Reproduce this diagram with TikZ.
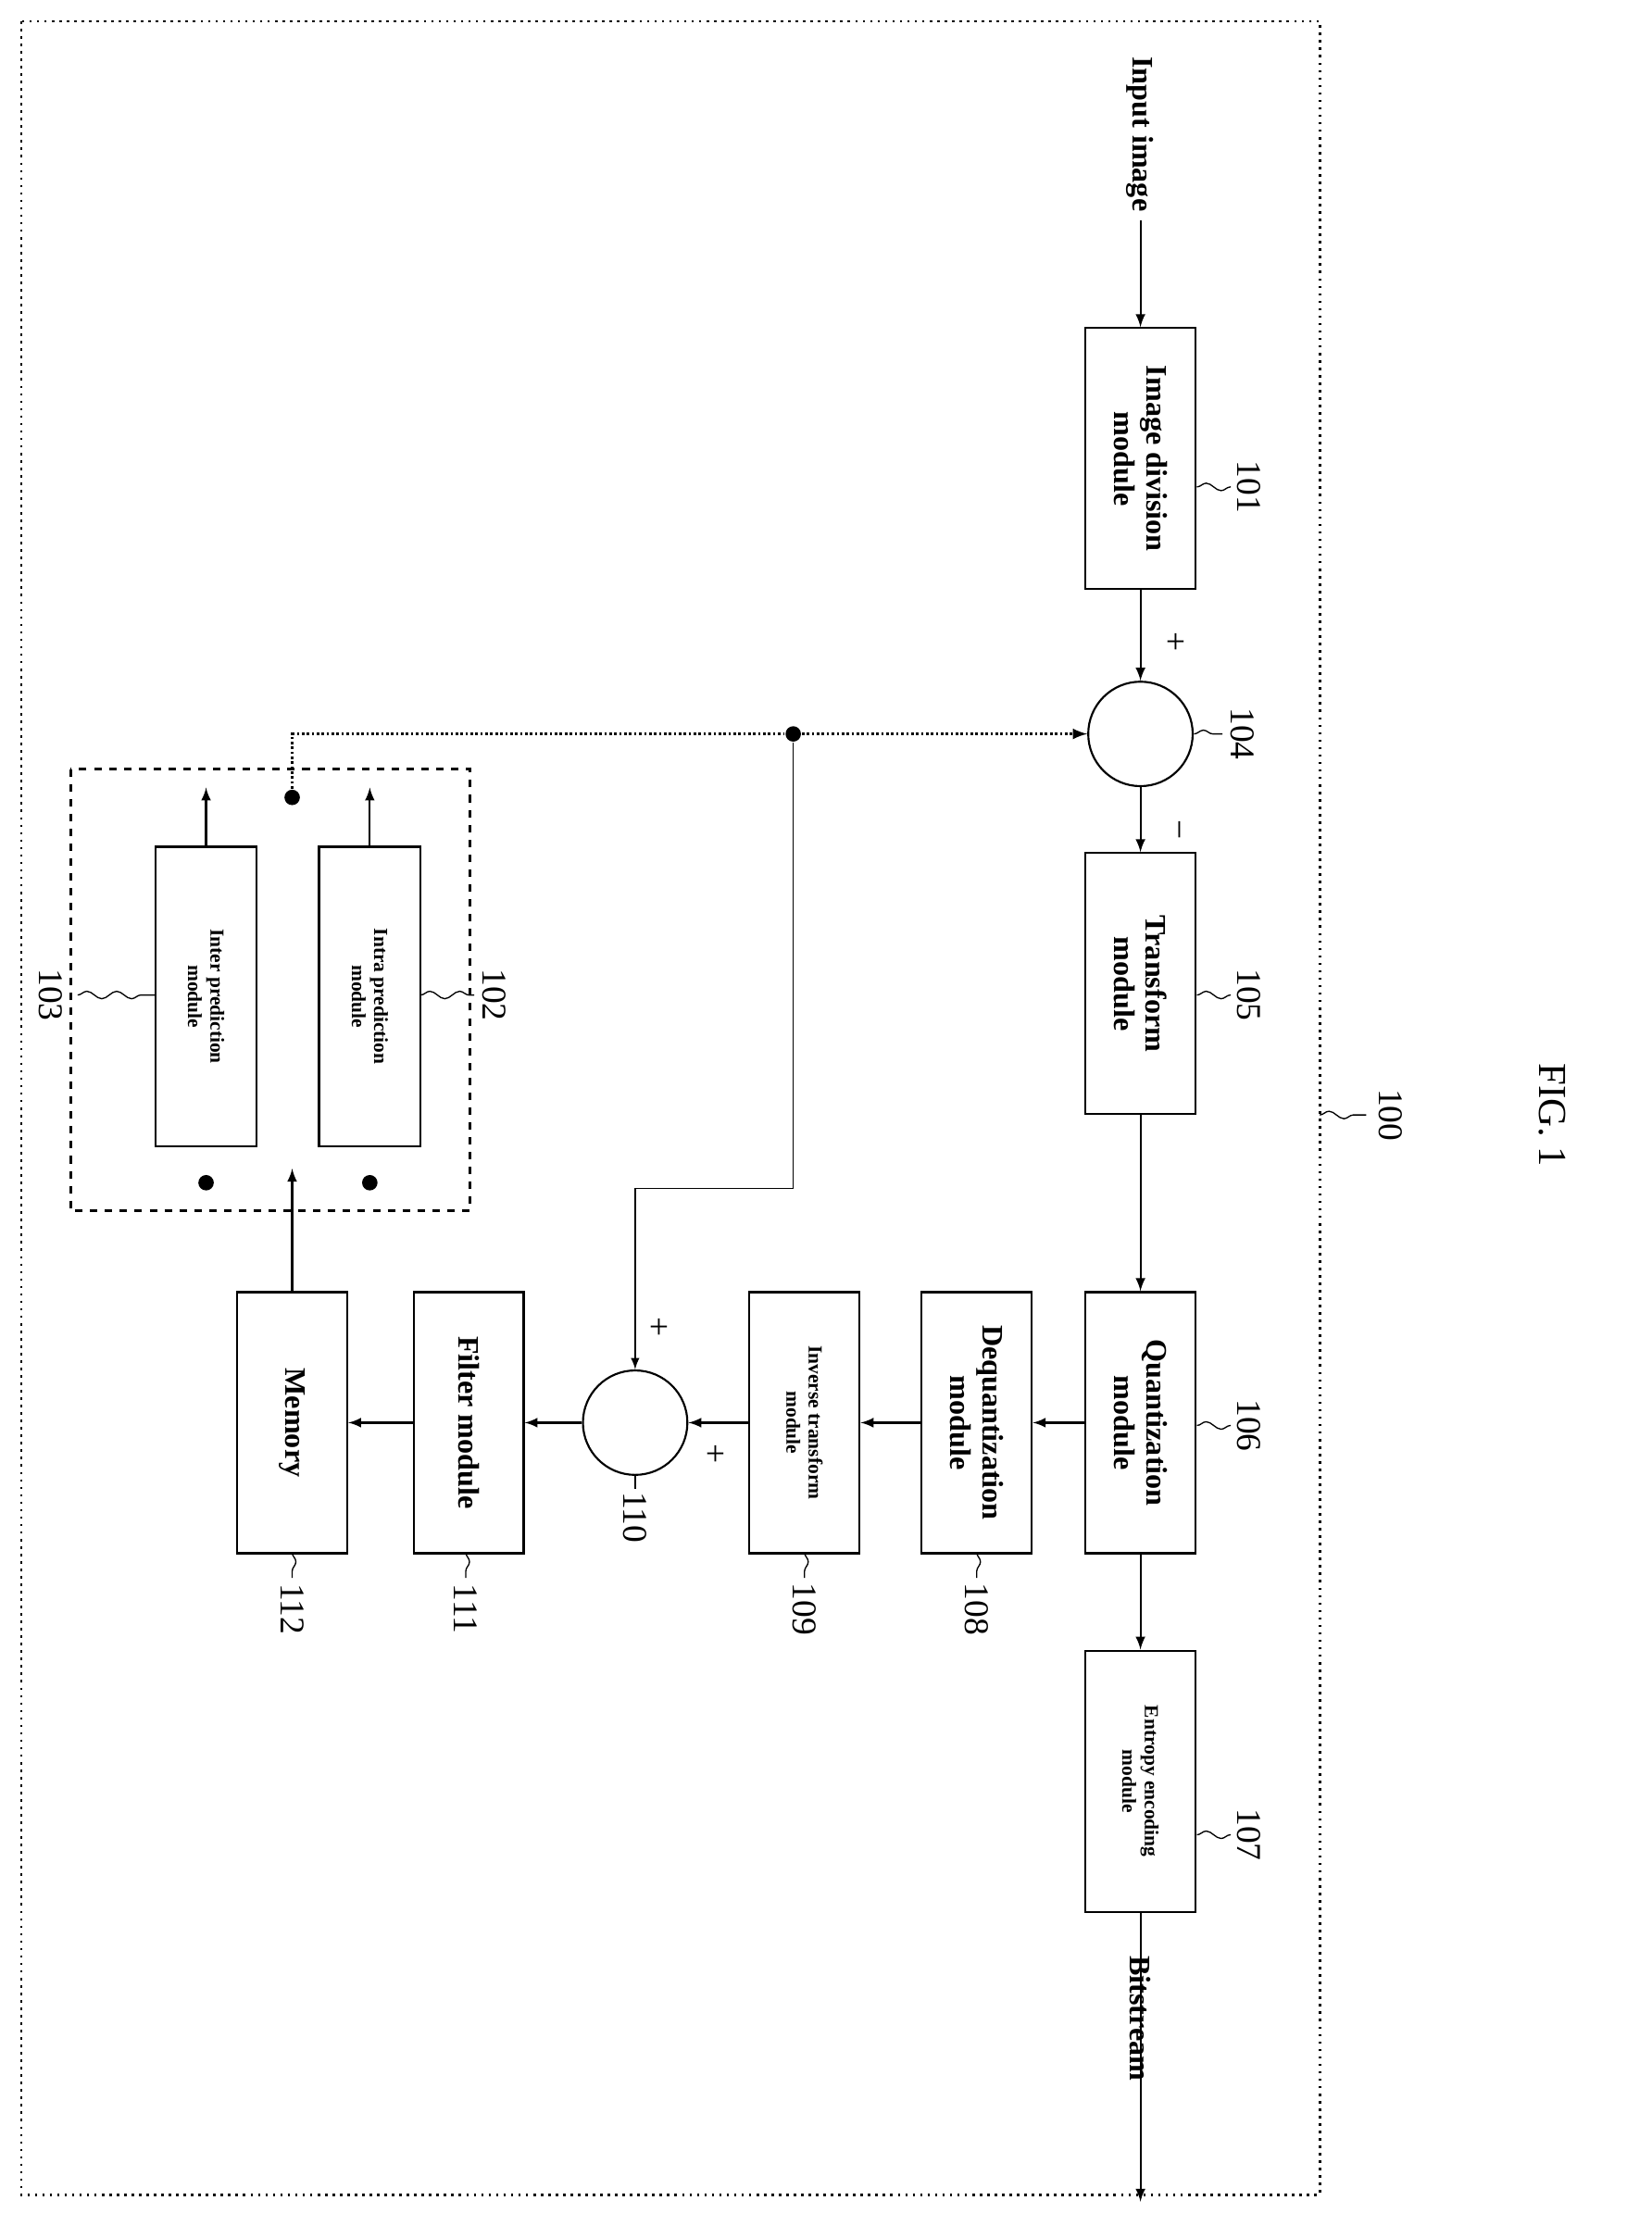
\documentclass[tikz,border=0pt]{standalone}
\usepackage{fontspec}
\setmainfont{Liberation Serif}
\usetikzlibrary{decorations.pathmorphing}
\begin{document}
\begin{tikzpicture}[x=0.02cm,y=-0.02cm,>=latex,line width=0.8pt]
\tikzstyle{every node}=[rotate=-90,font=\fontsize{12}{13}\selectfont\bfseries]
\tikzstyle{block}=[draw,align=center,minimum width=185*0.02cm,minimum height=78*0.02cm,inner sep=1pt]
\tikzstyle{small}=[font=\fontsize{8}{9}\selectfont\bfseries]
\tikzstyle{sum}=[draw,circle,minimum size=74*0.02cm,inner sep=0pt]
\tikzstyle{lbl}=[font=\fontsize{14}{15}\selectfont]
\tikzstyle{wave}=[decorate,decoration={snake,amplitude=1.5pt,segment length=12pt},line width=0.5pt]
\tikzstyle{dot}=[circle,fill,inner sep=2.2pt]
\useasboundingbox (0,0) rectangle (1170,1568);
\draw[dotted,line width=1pt] (15,15) rectangle (935,1555);
% main path
\node (in) at (808,95) {Input image};
\node[block] (b101) at (808,325) {Image division\\module};
\node[sum] (s104) at (808,520) {};
\node[block] (b105) at (808,697) {Transform\\module};
\node[block] (b106) at (808,1008) {Quantization\\module};
\node[block,small] (b107) at (808,1262) {Entropy encoding\\module};
\node (out) at (808,1430) {Bitstream};
\coordinate (end) at (808,1560);
% reconstruction
\node[block] (b108) at (692,1008) {Dequantization\\module};
\node[block,small] (b109) at (570,1008) {Inverse transform\\module};
\node[sum] (s110) at (450,1008) {};
\node[block] (b111) at (332,1008) {Filter module};
\node[block] (b112) at (207,1008) {Memory};
% prediction
\draw[dashed,line width=1pt] (50,545) rectangle (333,858);
\node[block,small,minimum width=212*0.02cm,minimum height=72*0.02cm] (b103) at (146,706) {Inter prediction\\module};
\node[block,small,minimum width=212*0.02cm,minimum height=72*0.02cm] (b102) at (262,706) {Intra prediction\\module};
\node[dot] (d103) at (146,838) {};
\node[dot] (d102) at (262,838) {};
\node[dot] (sw) at (207,565) {};
\node[dot] (j) at (562,520) {};
\coordinate (t103) at (146,558);
\coordinate (t102) at (262,558);
\coordinate (min) at (207,828);
% arrows
\draw[->] (in) -- (b101);
\draw[->] (b101) -- (s104);
\draw[->] (s104) -- (b105);
\draw[->] (b105) -- (b106);
\draw[->] (b106) -- (b107);
\draw[->] (b107) -- (end);
\draw[->] (b106) -- (b108);
\draw[->] (b108) -- (b109);
\draw[->] (b109) -- (s110);
\draw[->] (s110) -- (b111);
\draw[->] (b111) -- (b112);
\draw[->] (b112) -- (min);
\draw[->] (b103) -- (t103);
\draw[->] (b102) -- (t102);
\draw[densely dotted,line width=1pt] (sw) |- (j);
\draw[densely dotted,line width=1pt,->] (j) -- (s104);
\draw[->,line width=0.6pt] (j) -- (562,842) -| (s110);
% signs
\node[lbl] at (832,455) {+};
\node[lbl] at (832,588) {\textminus};
\node[lbl] at (466,940) {+};
\node[lbl] at (506,1030) {+};
% labels
\node[lbl] (l100) at (985,790) {100};
\draw[wave] (935,790) -- (968,790);
\node[lbl] (l101) at (885,345) {101};
\draw[wave] (848,345) -- (872,345);
\node[lbl] (l104) at (880,520) {104};
\draw[wave] (846,520) -- (866,520);
\node[lbl] (l105) at (885,705) {105};
\draw[wave] (848,705) -- (872,705);
\node[lbl] (l106) at (885,1010) {106};
\draw[wave] (848,1010) -- (872,1010);
\node[lbl] (l107) at (885,1300) {107};
\draw[wave] (848,1300) -- (872,1300);
\node[lbl] (l108) at (692,1140) {108};
\draw[wave] (692,1100) -- (692,1118);
\node[lbl] (l109) at (570,1140) {109};
\draw[wave] (570,1100) -- (570,1118);
\node[lbl] (l110) at (450,1075) {110};
\draw[wave] (450,1045) -- (450,1055);
\node[lbl] (l111) at (330,1140) {111};
\draw[wave] (330,1100) -- (330,1118);
\node[lbl] (l112) at (207,1140) {112};
\draw[wave] (207,1100) -- (207,1118);
\node[lbl] (l103) at (36,705) {103};
\draw[wave] (55,705) -- (110,705);
\node[lbl] (l102) at (350,705) {102};
\draw[wave] (298,705) -- (336,705);
\node[font=\fontsize{16}{17}\selectfont] (fig) at (1100,790) {FIG. 1};
\end{tikzpicture}
\end{document}
